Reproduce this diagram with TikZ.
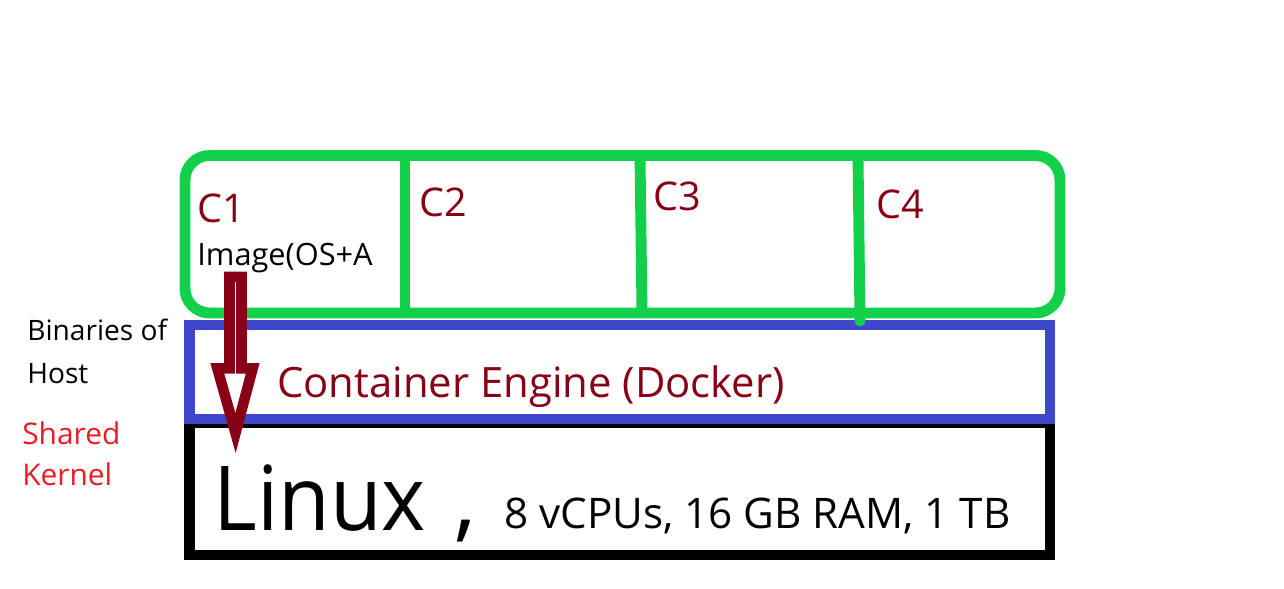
\documentclass[tikz,border=0pt]{standalone}
\usepackage{fontspec}
\setmainfont{Open Sans}
\definecolor{boxgreen}{RGB}{18,208,74}
\definecolor{engblue}{RGB}{63,72,204}
\definecolor{darkred}{RGB}{136,0,21}
\definecolor{kernred}{RGB}{237,28,36}

\begin{document}
\begin{tikzpicture}[x=0.02cm, y=-0.02cm,
	lbl/.style={anchor=base west, inner sep=0pt},
	cname/.style={lbl, text=darkred, font=\fontsize{22.5}{27}\selectfont}]
	\useasboundingbox (0,0) rectangle (1284,588);

	% host and engine
	\draw[line width=5.7] (189.5,423) rectangle (1050,555);
	\draw[engblue, line width=5.7] (189.5,325) rectangle (1050,419);

	% containers
	\draw[boxgreen, line width=6.2, rounded corners=14] (185,155.5) rectangle (1060,313);
	\draw[boxgreen, line width=6.2] (405,156) -- (405,313);
	\draw[boxgreen, line width=6.2] (640,156) -- (642,313);
	\draw[boxgreen, line width=6.2, line cap=round] (858,156) -- (860,321);
	\foreach \n/\x/\y in {1/197/222, 2/419/216, 3/653/210, 4/876/218}{
	\node[cname] (c\n) at (\x,\y) {C\n};}
	\node[lbl, font=\fontsize{17.5}{21}\selectfont] (img) at (197,265) {Image(OS+A};

	% engine and host labels
	\node[lbl, text=darkred, font=\fontsize{23.8}{28}\selectfont] (engine) at (277,397) {Container Engine (Docker)};
	\node[lbl, font=\fontsize{51}{60}\selectfont, xscale=0.94] (linux) at (213,530) {Linux};
	\node[lbl, font=\fontsize{51}{60}\selectfont] (comma) at (454,530) {,};
	\node[lbl, font=\fontsize{24}{30}\selectfont] (specs) at (504,528) {8 vCPUs, 16 GB RAM, 1 TB};

	% side notes
	\node[lbl, font=\fontsize{16}{19}\selectfont] (bin) at (27,340) {Binaries of};
	\node[lbl, font=\fontsize{16}{19}\selectfont] (host) at (27,383) {Host};
	\node[lbl, text=kernred, font=\fontsize{17}{20}\selectfont] (shared) at (22,444) {Shared};
	\node[lbl, text=kernred, font=\fontsize{17}{20}\selectfont] (kernel) at (22,485) {Kernel};

	% arrow
	\draw[darkred, fill=white, line width=6, line join=miter]
		(229.5,277) -- (229.5,368.3) -- (217.3,368.3) -- (235.5,433) -- (252.7,368.3) -- (241.5,368.3) -- (241.5,277) -- cycle;
\end{tikzpicture}
\end{document}
